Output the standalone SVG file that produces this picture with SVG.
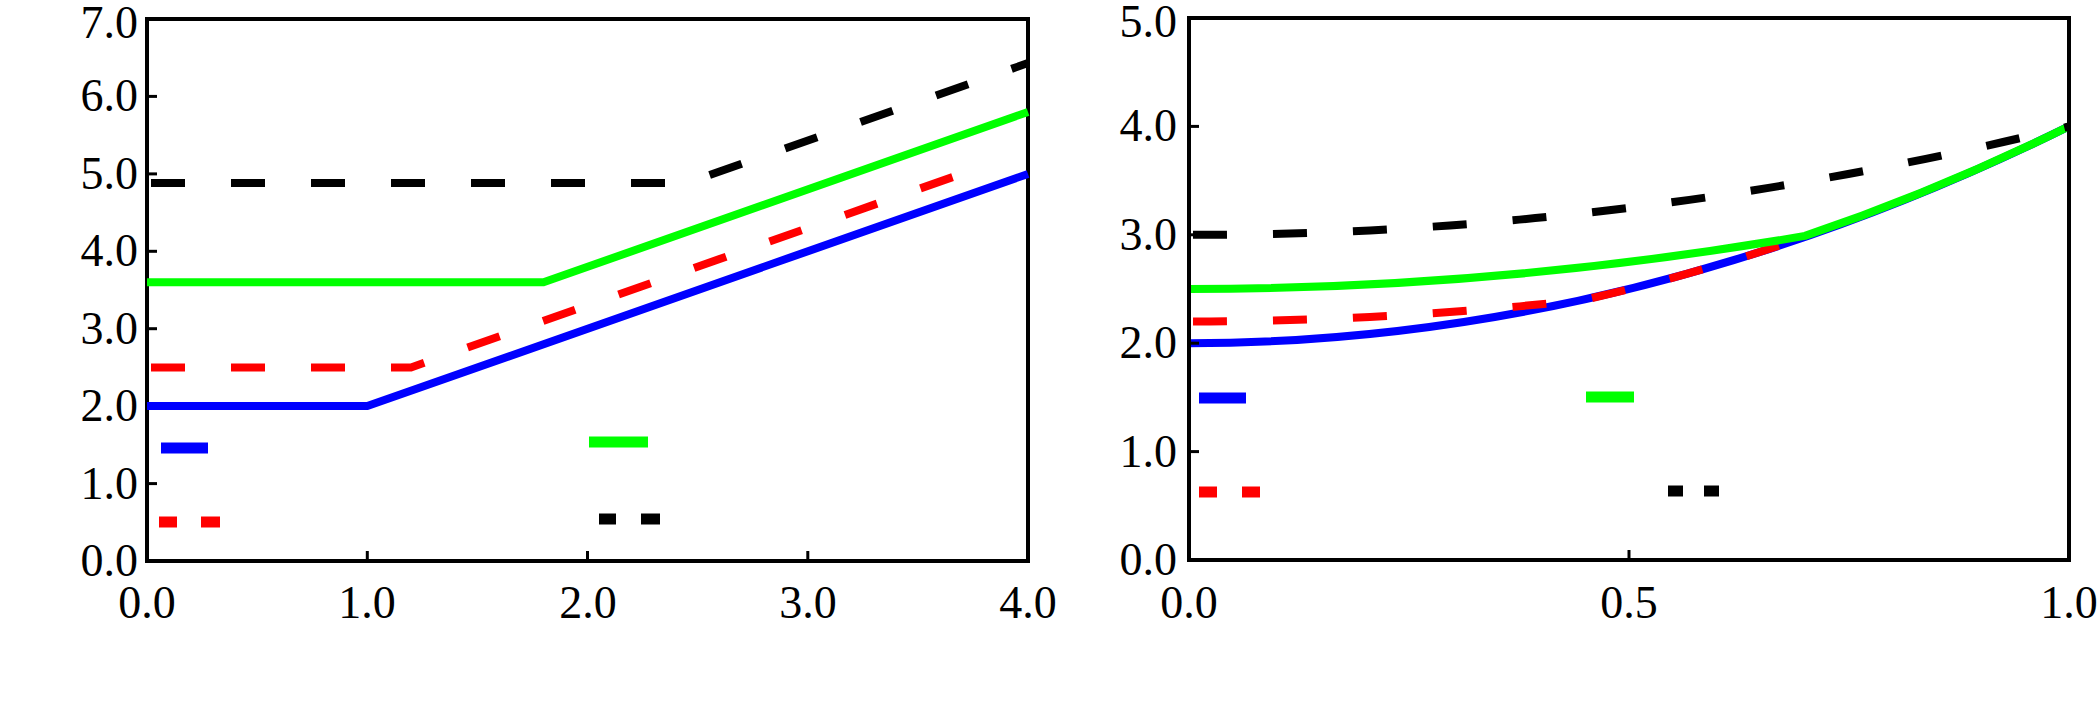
<svg xmlns="http://www.w3.org/2000/svg" width="2097" height="704" viewBox="0 0 2097 704">
<style>
.frame{fill:none;stroke:#000;stroke-width:4}
.tick{stroke:#000;stroke-width:3}
.lbl{font-family:"Liberation Serif",serif;font-size:46px;fill:#000}
.c{fill:none;stroke-width:8;stroke-linejoin:round}
.b{stroke:#0000ff}.g{stroke:#00ff00}.r{stroke:#ff0000;stroke-dasharray:34 46}.k{stroke:#000;stroke-dasharray:34 46}
.lg{stroke-width:11}
</style>
<rect width="2097" height="704" fill="#fff"/>
<g id="plot-left">
<rect class="frame" x="147" y="19" width="881" height="542"/>
<g class="tick">
<line x1="147" y1="483.6" x2="157" y2="483.6"/><line x1="147" y1="406.1" x2="157" y2="406.1"/><line x1="147" y1="328.7" x2="157" y2="328.7"/><line x1="147" y1="251.3" x2="157" y2="251.3"/><line x1="147" y1="173.9" x2="157" y2="173.9"/><line x1="147" y1="96.4" x2="157" y2="96.4"/>
<line x1="367.3" y1="561" x2="367.3" y2="551"/><line x1="587.5" y1="561" x2="587.5" y2="551"/><line x1="807.8" y1="561" x2="807.8" y2="551"/>
</g>
<g class="lbl" text-anchor="end">
<text x="138" y="576">0.0</text><text x="138" y="499">1.0</text><text x="138" y="421">2.0</text><text x="138" y="344">3.0</text><text x="138" y="266">4.0</text><text x="138" y="189">5.0</text><text x="138" y="111">6.0</text><text x="138" y="38">7.0</text>
</g>
<g class="lbl" text-anchor="middle">
<text x="147" y="618">0.0</text><text x="367" y="618">1.0</text><text x="588" y="618">2.0</text><text x="808" y="618">3.0</text><text x="1028" y="618">4.0</text>
</g>
</g>
<g id="connectors">
<polyline class="c b" points="147,406.1 367.3,406.1 1028,173.9"/>
<polyline class="c r" points="151,367.4 411,367.4 985,165.7"/>
<polyline class="c g" points="147,282.3 543.5,282.3 1028,111.9"/>
<polyline class="c k" points="151,183.1 686.6,183.1 1028,63.1"/>
<path class="c b" d="M1189,343.2 Q1629,343.2 2069,126.4"/>
<path class="c r" d="M1193,321.5 Q1387,321.5 1585,299.6 Q1695,274.9 1805,236.9"/>
<path class="c g" d="M1189,289 Q1497,289 1805,235.9 Q1937,191.4 2069,126.4"/>
<path class="c k" d="M1193,234.8 Q1629,234.8 2069,126.4"/>
</g>
<g id="legend-left">
<line class="lg" stroke="#0000ff" x1="161" y1="448" x2="208" y2="448"/>
<line class="lg" stroke="#00ff00" x1="589" y1="442" x2="648" y2="442"/>
<line class="lg" stroke="#ff0000" x1="159" y1="522" x2="177" y2="522"/><line class="lg" stroke="#ff0000" x1="201" y1="522" x2="220" y2="522"/>
<line class="lg" stroke="#000" stroke-width="9" x1="599" y1="519" x2="616" y2="519"/><line class="lg" stroke="#000" stroke-width="9" x1="641" y1="519" x2="660" y2="519"/>
</g>
<g id="plot-right">
<rect class="frame" x="1189" y="18" width="880" height="542"/>
<g class="tick">
<line x1="1189" y1="451.6" x2="1199" y2="451.6"/><line x1="1189" y1="343.2" x2="1199" y2="343.2"/><line x1="1189" y1="234.8" x2="1199" y2="234.8"/><line x1="1189" y1="126.4" x2="1199" y2="126.4"/>
<line x1="1629" y1="560" x2="1629" y2="550"/>
</g>
<g class="lbl" text-anchor="end">
<text x="1177" y="575">0.0</text><text x="1177" y="467">1.0</text><text x="1177" y="358">2.0</text><text x="1177" y="250">3.0</text><text x="1177" y="141">4.0</text><text x="1177" y="37">5.0</text>
</g>
<g class="lbl" text-anchor="middle">
<text x="1189" y="618">0.0</text><text x="1629" y="618">0.5</text><text x="2069" y="618">1.0</text>
</g>
</g>
<g id="legend-right">
<line class="lg" stroke="#0000ff" stroke-width="12" x1="1199" y1="398" x2="1246" y2="398"/>
<line class="lg" stroke="#00ff00" stroke-width="8" x1="1586" y1="397" x2="1634" y2="397"/>
<line class="lg" stroke="#ff0000" stroke-width="12" x1="1199" y1="492" x2="1217" y2="492"/><line class="lg" stroke="#ff0000" stroke-width="12" x1="1242" y1="492" x2="1260" y2="492"/>
<line class="lg" stroke="#000" stroke-width="8" x1="1668" y1="491" x2="1683" y2="491"/><line class="lg" stroke="#000" stroke-width="8" x1="1704" y1="491" x2="1719" y2="491"/>
</g>
</svg>
